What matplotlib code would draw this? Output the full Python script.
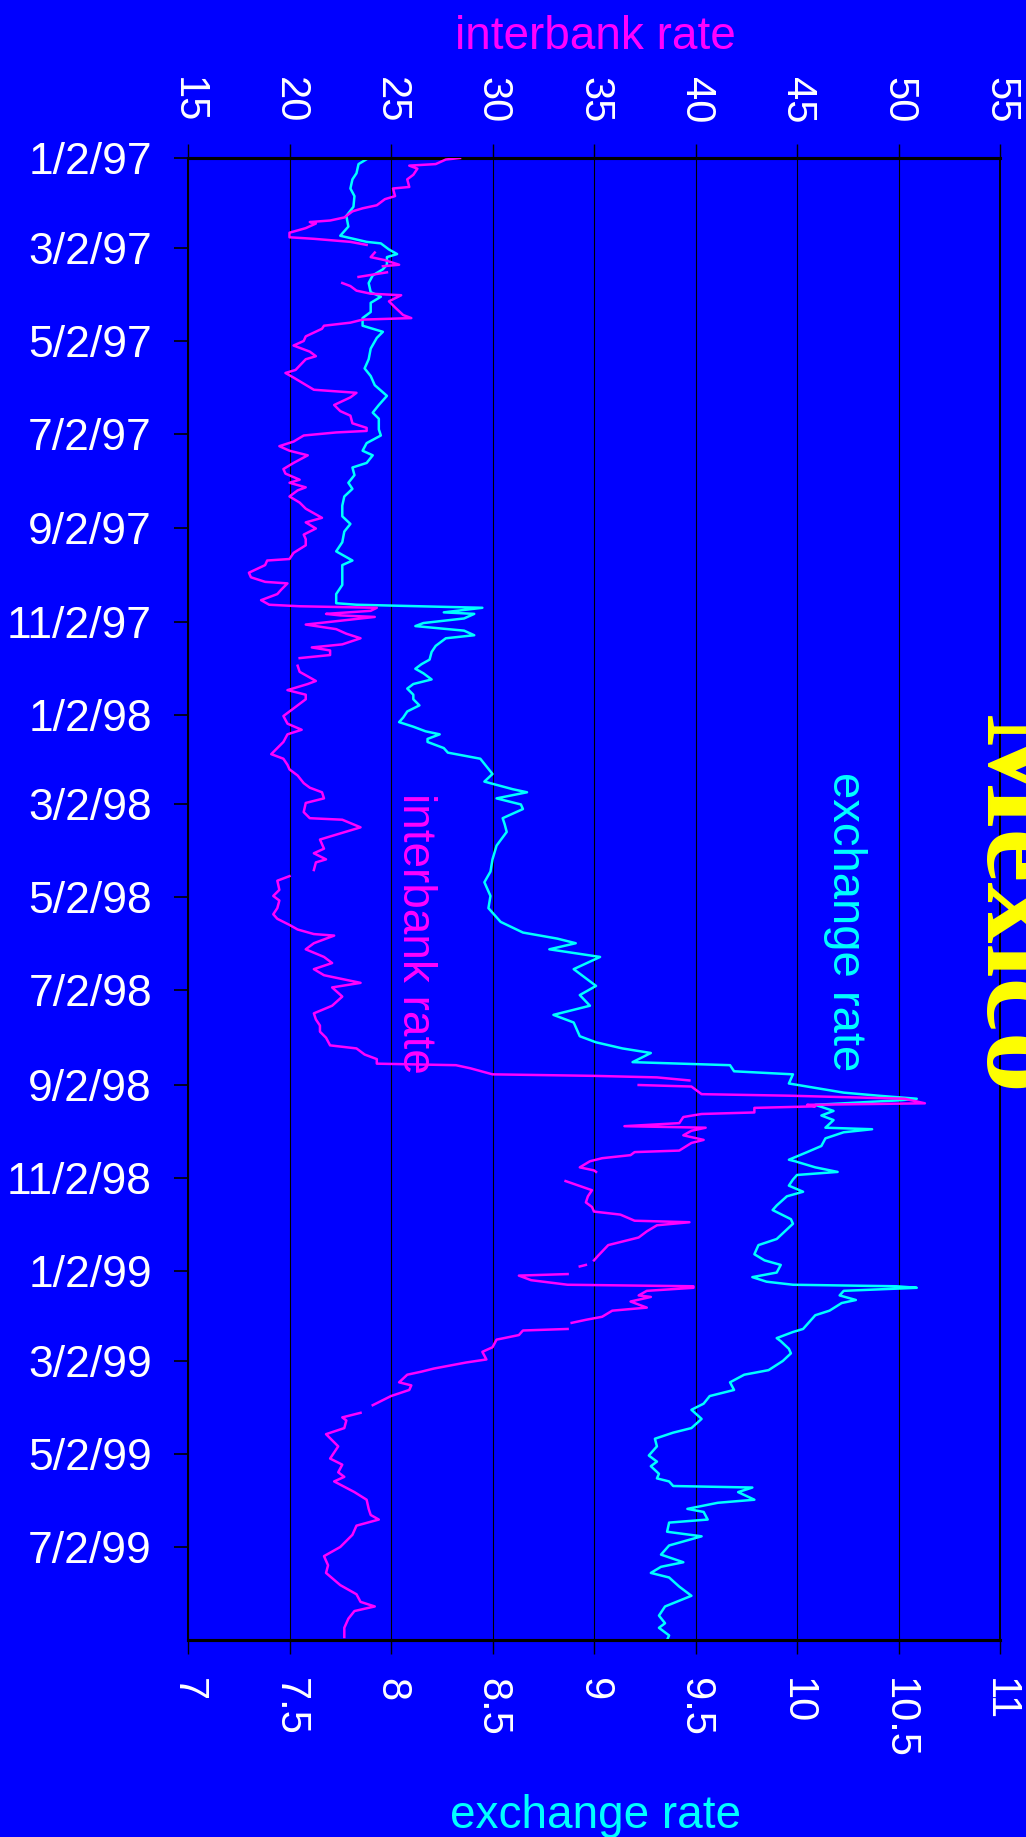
import numpy as np
import pandas as pd
import matplotlib
matplotlib.use("Agg")
import matplotlib.pyplot as plt

plt.rcParams['font.family'] = ['Liberation Sans', 'DejaVu Sans']

# ---------------- data ----------------
ib_dates = [
 "1997-01-02","1997-01-03","1997-01-06","1997-01-07","1997-01-09","1997-01-13","1997-01-16","1997-01-21","1997-01-22","1997-01-27",
 "1997-01-29","1997-02-02","1997-02-04","1997-02-06","1997-02-10","1997-02-12","1997-02-13","1997-02-14","1997-02-17","1997-02-20",
 "1997-02-23","1997-02-24","1997-02-26","1997-02-28","1997-03-03","1997-03-05","1997-03-08","1997-03-10","1997-03-13","1997-03-14",
 "1997-03-15","1997-03-18","1997-03-21","1997-03-22","1997-03-25","1997-03-27","1997-03-30","1997-04-01","1997-04-02","1997-04-06",
 "1997-04-10","1997-04-15","1997-04-17","1997-04-18","1997-04-20","1997-04-22","1997-04-24","1997-04-29","1997-05-02","1997-05-05",
 "1997-05-09","1997-05-12","1997-05-14","1997-05-21","1997-05-23","1997-05-26","1997-05-30","1997-06-03","1997-06-05","1997-06-08",
 "1997-06-13","1997-06-17","1997-06-20","1997-06-25","1997-06-28","1997-06-30","1997-07-01","1997-07-03","1997-07-07","1997-07-10",
 "1997-07-13","1997-07-16","1997-07-21","1997-07-25","1997-07-28","1997-08-01","1997-08-03","1997-08-06","1997-08-08","1997-08-12",
 "1997-08-16","1997-08-20","1997-08-26","1997-08-29","1997-09-02","1997-09-06","1997-09-09","1997-09-13","1997-09-18","1997-09-22",
 "1997-09-23","1997-09-26","1997-10-01","1997-10-04","1997-10-07","1997-10-08","1997-10-12","1997-10-15","1997-10-19","1997-10-22",
 "1997-10-23","1997-10-24","1997-10-26","1997-10-28","1997-10-29","1997-10-30","1997-11-04","1997-11-07","1997-11-10","1997-11-13",
 "1997-11-17","1997-11-19","1997-11-21","1997-11-24","1997-11-26","1997-11-28","1997-12-01","1997-12-05","1997-12-11","1997-12-13",
 "1997-12-17","1997-12-20","1997-12-23","1997-12-28","1997-12-31","1998-01-03","1998-01-08","1998-01-12","1998-01-15","1998-01-20",
 "1998-01-28","1998-01-31","1998-02-04","1998-02-07","1998-02-11","1998-02-16","1998-02-19","1998-02-22","1998-02-26","1998-03-01",
 "1998-03-07","1998-03-11","1998-03-12","1998-03-17","1998-03-21","1998-03-25","1998-03-31","1998-04-03","1998-04-07","1998-04-09",
 "1998-04-14","1998-04-16","1998-04-18","1998-04-21","1998-04-27","1998-05-01","1998-05-04","1998-05-09","1998-05-13","1998-05-16",
 "1998-05-20","1998-05-23","1998-05-26","1998-05-27","1998-06-01","1998-06-05","1998-06-10","1998-06-14","1998-06-18","1998-06-22",
 "1998-06-27","1998-06-30","1998-07-06","1998-07-12","1998-07-17","1998-07-21","1998-07-25","1998-07-29","1998-08-02","1998-08-07",
 "1998-08-09","1998-08-13","1998-08-16","1998-08-19","1998-08-20","1998-08-22","1998-08-26","1998-08-27","1998-08-28","1998-08-30",
 "1998-08-31","1998-09-02","1998-09-03","1998-09-08","1998-09-09","1998-09-11","1998-09-14","1998-09-15","1998-09-16","1998-09-17",
 "1998-09-20","1998-09-21","1998-09-23","1998-09-27","1998-09-29","1998-09-30","1998-10-02","1998-10-05","1998-10-08","1998-10-10",
 "1998-10-15","1998-10-16","1998-10-18","1998-10-20","1998-10-22","1998-10-26","1998-10-28","1998-10-29","1998-10-31","1998-11-04",
 "1998-11-10","1998-11-14","1998-11-18","1998-11-21","1998-11-24","1998-11-26","1998-11-30","1998-12-01","1998-12-03","1998-12-07",
 "1998-12-11","1998-12-16","1998-12-23","1998-12-26","1998-12-27","1998-12-29","1998-12-30","1998-12-31","1999-01-04","1999-01-05",
 "1999-01-08","1999-01-11","1999-01-12","1999-01-13","1999-01-15","1999-01-18","1999-01-19","1999-01-22","1999-01-26","1999-01-28",
 "1999-02-01","1999-02-03","1999-02-05","1999-02-07","1999-02-09","1999-02-10","1999-02-13","1999-02-16","1999-02-21","1999-02-24",
 "1999-03-01","1999-03-03","1999-03-07","1999-03-09","1999-03-11","1999-03-16","1999-03-18","1999-03-21","1999-03-25","1999-03-31",
 "1999-04-02","1999-04-05","1999-04-08","1999-04-10","1999-04-15","1999-04-19","1999-04-27","1999-05-05","1999-05-09","1999-05-14",
 "1999-05-17","1999-05-20","1999-05-27","1999-06-01","1999-06-07","1999-06-11","1999-06-14","1999-06-18","1999-06-24","1999-07-02",
 "1999-07-08","1999-07-14","1999-07-19","1999-07-27","1999-08-02","1999-08-07","1999-08-10","1999-08-13","1999-08-18","1999-08-24",
 "1999-08-30",
]
nan = np.nan
ib_values = [
 28.4, 27.7, 27.2, 25.9, 26.3, 26.1, 25.8, 25.9, 25.1, 25.2,
 24.7, 24.3, 23.6, 23.1, 22.7, 22.0, 21.0, 21.3, 20.8, 20.0,
 20.0, 21.2, 23.0, 23.8, nan, 24.2, 24.0, 24.7, 25.4, 24.6,
 nan, 24.8, 23.4, nan, 22.6, 23.0, 23.3, 24.0, 25.5, 24.9,
 25.2, 25.6, 26.0, 23.6, 23.0, 21.7, 21.6, 20.8, 20.7, 20.2,
 21.0, 21.3, 20.8, 20.3, 19.8, 20.2, 20.7, 21.2, 23.3, 23.0,
 22.2, 22.5, 23.0, 23.1, 23.8, 23.8, 22.3, 20.7, 20.2, 19.5,
 20.0, 20.9, 20.2, 19.7, 19.8, 20.5, 20.0, 20.8, 20.4, 20.0,
 20.5, 20.8, 21.6, 20.8, 21.3, 20.7, 20.8, 20.8, 20.2, 20.0,
 18.9, 18.8, 18.0, 18.1, 18.8, 19.9, 19.6, 19.4, 18.6, 19.0,
 20.5, 24.3, 24.0, 21.8, 22.5, 24.2, 20.8, 22.3, 22.8, 23.5,
 22.6, 21.1, 22.0, 22.0, 20.5, nan, 20.4, 20.5, 21.3, 20.9,
 19.9, 20.8, 20.8, 20.3, 20.0, 19.7, 19.9, 20.6, 19.9, 19.7,
 19.1, 19.7, 19.9, 20.0, 20.4, 20.7, 21.0, 21.6, 21.7, 20.8,
 20.7, 21.0, 22.6, 23.5, 22.5, 21.5, 21.7, 21.2, 21.8, 21.3,
 21.2, nan, 20.0, 19.4, 19.5, 19.2, 19.5, 19.4, 19.2, 19.4,
 20.0, 20.4, 21.2, 22.2, 21.2, 20.8, 21.7, 22.1, 21.2, 21.7,
 23.5, 22.1, 22.6, 22.1, 21.2, 21.3, 21.5, 21.5, 21.8, 22.0,
 23.3, 23.7, 24.3, 24.3, 28.2, 28.9, 30.0, 35.0, 38.1, 39.7,
 nan, 37.2, 39.8, 40.3, 44.6, 50.3, 51.3, 45.5, 45.9, 42.9,
 42.9, 40.3, 39.4, 39.2, 36.5, 40.5, 39.8, 39.4, 40.4, 39.8,
 39.2, 37.0, 36.8, 35.4, 34.8, 34.3, 35.0, 35.1, nan, 33.6,
 34.9, 34.7, 34.6, 34.9, 35.0, 36.3, 37.0, 39.7, 38.1, 37.6,
 37.2, 35.7, 35.2, 35.0, nan, 34.6, 34.3, nan, 33.7, 31.3,
 31.9, 33.7, 39.9, 39.9, 37.6, 37.2, 37.8, 36.8, 37.6, 35.9,
 35.4, 34.6, 33.9, nan, 33.7, 31.5, 31.3, 30.2, 30.0, 29.5,
 29.7, 28.7, 27.1, 26.5, 25.8, 25.4, 26.0, 25.9, 25.0, 24.1,
 nan, 23.5, 22.6, 22.8, 22.7, 21.8, 22.4, 22.0, 22.6, 22.4,
 22.7, 22.2, 23.2, 23.8, 23.9, 24.0, 24.4, 23.3, 23.1, 22.5,
 21.7, 21.9, 21.8, 22.5, 23.3, 23.5, 24.2, 23.2, 22.9, 22.7,
 22.7,
]

fx_dates = [
 "1997-01-02","1997-01-06","1997-01-12","1997-01-16","1997-01-22","1997-01-27","1997-02-03","1997-02-09","1997-02-16","1997-02-22",
 "1997-02-26","1997-02-27","1997-03-03","1997-03-06","1997-03-08","1997-03-13","1997-03-16","1997-03-20","1997-03-25","1997-03-31",
 "1997-04-03","1997-04-07","1997-04-13","1997-04-17","1997-04-22","1997-04-26","1997-04-30","1997-05-07","1997-05-14","1997-05-20",
 "1997-05-25","1997-05-31","1997-06-07","1997-06-13","1997-06-18","1997-06-22","1997-06-29","1997-07-03","1997-07-08","1997-07-13",
 "1997-07-16","1997-07-21","1997-07-24","1997-07-29","1997-08-03","1997-08-07","1997-08-12","1997-08-18","1997-08-25","1997-08-30",
 "1997-09-04","1997-09-11","1997-09-17","1997-09-23","1997-09-26","1997-10-03","1997-10-09","1997-10-15","1997-10-21","1997-10-22",
 "1997-10-24","1997-10-27","1997-10-28","1997-10-31","1997-11-03","1997-11-05","1997-11-08","1997-11-11","1997-11-13","1997-11-18",
 "1997-11-22","1997-11-27","1997-11-30","1997-12-03","1997-12-06","1997-12-10","1997-12-13","1997-12-16","1997-12-20","1997-12-23",
 "1997-12-27","1997-12-31","1998-01-04","1998-01-07","1998-01-10","1998-01-13","1998-01-15","1998-01-18","1998-01-20","1998-01-24",
 "1998-01-27","1998-01-31","1998-02-10","1998-02-15","1998-02-20","1998-02-22","1998-02-26","1998-03-02","1998-03-05","1998-03-11",
 "1998-03-15","1998-03-20","1998-03-29","1998-04-07","1998-04-15","1998-04-22","1998-05-01","1998-05-09","1998-05-18","1998-05-25",
 "1998-05-29","1998-06-01","1998-06-05","1998-06-10","1998-06-18","1998-06-29","1998-07-05","1998-07-12","1998-07-18","1998-07-23",
 "1998-08-01","1998-08-05","1998-08-09","1998-08-12","1998-08-18","1998-08-20","1998-08-24","1998-08-26","1998-09-01","1998-09-07",
 "1998-09-09","1998-09-11","1998-09-12","1998-09-15","1998-09-19","1998-09-22","1998-09-25","1998-09-30","1998-10-01","1998-10-03",
 "1998-10-07","1998-10-12","1998-10-16","1998-10-21","1998-10-22","1998-10-26","1998-10-29","1998-10-31","1998-11-03","1998-11-07",
 "1998-11-11","1998-11-14","1998-11-20","1998-11-23","1998-11-29","1998-12-02","1998-12-07","1998-12-12","1998-12-16","1998-12-22",
 "1998-12-26","1998-12-29","1999-01-03","1999-01-06","1999-01-09","1999-01-11","1999-01-12","1999-01-13","1999-01-15","1999-01-18",
 "1999-01-21","1999-01-23","1999-01-28","1999-01-31","1999-02-03","1999-02-09","1999-02-11","1999-02-15","1999-02-17","1999-02-22",
 "1999-02-25","1999-03-02","1999-03-08","1999-03-11","1999-03-16","1999-03-21","1999-03-25","1999-03-30","1999-04-03","1999-04-09",
 "1999-04-15","1999-04-18","1999-04-22","1999-04-27","1999-05-03","1999-05-07","1999-05-10","1999-05-15","1999-05-18","1999-05-20",
 "1999-05-23","1999-05-24","1999-05-27","1999-06-01","1999-06-03","1999-06-07","1999-06-09","1999-06-14","1999-06-16","1999-06-22",
 "1999-06-25","1999-07-01","1999-07-07","1999-07-12","1999-07-15","1999-07-19","1999-07-22","1999-07-28","1999-08-03","1999-08-10",
 "1999-08-16","1999-08-21","1999-08-24","1999-08-29","1999-09-01",
]
fx_values = [
 7.89, 7.84, 7.83, 7.81, 7.80, 7.82, 7.815, 7.78, 7.79, 7.75,
 7.88, 7.95, 7.99, 8.03, 7.98, 7.98, 7.96, 7.91, 7.89, 7.90,
 7.95, 7.90, 7.90, 7.86, 7.86, 7.96, 7.93, 7.90, 7.89, 7.87,
 7.90, 7.92, 7.98, 7.94, 7.91, 7.94, 7.94, 7.95, 7.88, 7.86,
 7.91, 7.88, 7.81, 7.82, 7.79, 7.81, 7.77, 7.76, 7.76, 7.80,
 7.77, 7.76, 7.73, 7.81, 7.76, 7.76, 7.76, 7.73, 7.73, 7.83,
 8.45, 8.26, 8.41, 8.36, 8.16, 8.12, 8.36, 8.41, 8.27, 8.22,
 8.20, 8.19, 8.15, 8.12, 8.16, 8.20, 8.11, 8.08, 8.11, 8.11,
 8.14, 8.08, 8.06, 8.04, 8.11, 8.17, 8.24, 8.18, 8.18, 8.26,
 8.28, 8.44, 8.50, 8.46, 8.60, 8.67, 8.52, 8.64, 8.65, 8.55,
 8.56, 8.57, 8.52, 8.50, 8.49, 8.46, 8.49, 8.48, 8.54, 8.65,
 8.82, 8.91, 8.78, 9.03, 8.90, 9.01, 8.93, 8.98, 8.80, 8.90,
 8.93, 9.01, 9.14, 9.28, 9.19, 9.67, 9.69, 9.98, 9.96, 10.23,
 10.40, 10.59, 10.51, 10.09, 10.18, 10.12, 10.18, 10.14, 10.37, 10.23,
 10.14, 10.12, 10.05, 9.96, 9.99, 10.09, 10.20, 10.00, 9.98, 9.96,
 10.03, 9.95, 9.90, 9.88, 9.97, 9.98, 9.94, 9.90, 9.81, 9.79,
 9.84, 9.92, 9.90, 9.78, 9.85, 9.98, 10.49, 10.59, 10.23, 10.21,
 10.29, 10.22, 10.16, 10.09, 10.07, 10.03, 9.98, 9.90, 9.92, 9.96,
 9.97, 9.93, 9.86, 9.74, 9.67, 9.69, 9.57, 9.54, 9.48, 9.53,
 9.48, 9.39, 9.30, 9.31, 9.27, 9.31, 9.28, 9.32, 9.31, 9.37,
 9.39, 9.78, 9.71, 9.79, 9.61, 9.46, 9.54, 9.56, 9.37, 9.36,
 9.53, 9.37, 9.33, 9.44, 9.33, 9.28, 9.37, 9.42, 9.48, 9.35,
 9.32, 9.35, 9.32, 9.37, 9.36,
]

date_ticks = ["1997-01-02","1997-03-02","1997-05-02","1997-07-02","1997-09-02","1997-11-02",
              "1998-01-02","1998-03-02","1998-05-02","1998-07-02","1998-09-02","1998-11-02",
              "1999-01-02","1999-03-02","1999-05-02","1999-07-02"]
date_tick_labels = ["1/2/97","3/2/97","5/2/97","7/2/97","9/2/97","11/2/97",
                    "1/2/98","3/2/98","5/2/98","7/2/98","9/2/98","11/2/98",
                    "1/2/99","3/2/99","5/2/99","7/2/99"]
fx_ticks = [7, 7.5, 8, 8.5, 9, 9.5, 10, 10.5, 11]
fx_tick_labels = ["7", "7.5", "8", "8.5", "9", "9.5", "10", "10.5", "11"]
ib_ticks = [15, 20, 25, 30, 35, 40, 45, 50, 55]
ib_tick_labels = ["15", "20", "25", "30", "35", "40", "45", "50", "55"]
date_start, date_end = "1997-01-02", "1999-09-01"

# ---------------- figure ----------------
W, H = 1026, 1837
BLUE = "#0000FF"
MAG = "#FF00FF"
CYAN = "#00FFFF"
fig = plt.figure(figsize=(W / 100, H / 100), dpi=100, facecolor=BLUE)
L, R, T, B = 188, 1000, 158, 1640
ax = fig.add_axes([L / W, 1 - B / H, (R - L) / W, (B - T) / H])
ax.set_facecolor(BLUE)
ax2 = ax.twiny()

fxd = pd.to_datetime(fx_dates)
ibd = pd.to_datetime(ib_dates)
ax.plot(np.array(fx_values), fxd, color=CYAN, lw=1.8, zorder=3)
ax2.plot(np.array(ib_values), ibd, color=MAG, lw=1.8, zorder=3)

ax.set_xlim(7, 11)
ax2.set_xlim(15, 55)
ax.set_ylim(pd.Timestamp(date_end), pd.Timestamp(date_start))

ax.set_yticks(pd.to_datetime(date_ticks))
ax.set_yticklabels(date_tick_labels)
ax.set_xticks(fx_ticks)
ax.set_xticklabels(fx_tick_labels)
ax2.set_xticks(ib_ticks)
ax2.set_xticklabels(ib_tick_labels)

ax.grid(axis='x', color='black', lw=0.8)
ax.set_axisbelow(True)

ax.tick_params(axis='y', direction='out', length=10, width=1.2, color='black',
               labelsize=32, labelcolor='white', pad=16)
ax.tick_params(axis='x', direction='out', length=10, width=1.0, color='black',
               labelsize=30, labelcolor='white', pad=17, labelrotation=-90)
ax2.tick_params(axis='x', direction='out', length=10, width=1.0, color='black',
                labelsize=30, labelcolor='white', pad=15, labelrotation=-90)

for a in (ax, ax2):
    for side, sp in a.spines.items():
        sp.set_color('black')
        sp.set_linewidth(2.2 if side in ('top', 'bottom') else 1.3)

# titles
fig.text(595 / W, 1 - 49 / H, "interbank rate", color=MAG, fontsize=33,
         ha='center', va='baseline')
fig.text(595 / W, 1 - 1828 / H, "exchange rate", color=CYAN, fontsize=33,
         ha='center', va='baseline')
# in-plot labels
fig.text(845 / W, 1 - 922 / H, "exchange rate", color=CYAN, fontsize=34,
         rotation=-90, ha='center', va='center')
fig.text(415 / W, 1 - 933 / H, "interbank rate", color=MAG, fontsize=33,
         rotation=-90, ha='center', va='center')
# big title, mostly off-canvas as in the reference
fig.text(959 / W, 1 - 905 / H, "Mexico", color="#FFFF00", fontsize=88,
         family=['Liberation Serif', 'DejaVu Serif'], weight='bold',
         rotation=-90, ha='left', va='center')

fig.savefig("out.png", dpi=100, facecolor=BLUE)
